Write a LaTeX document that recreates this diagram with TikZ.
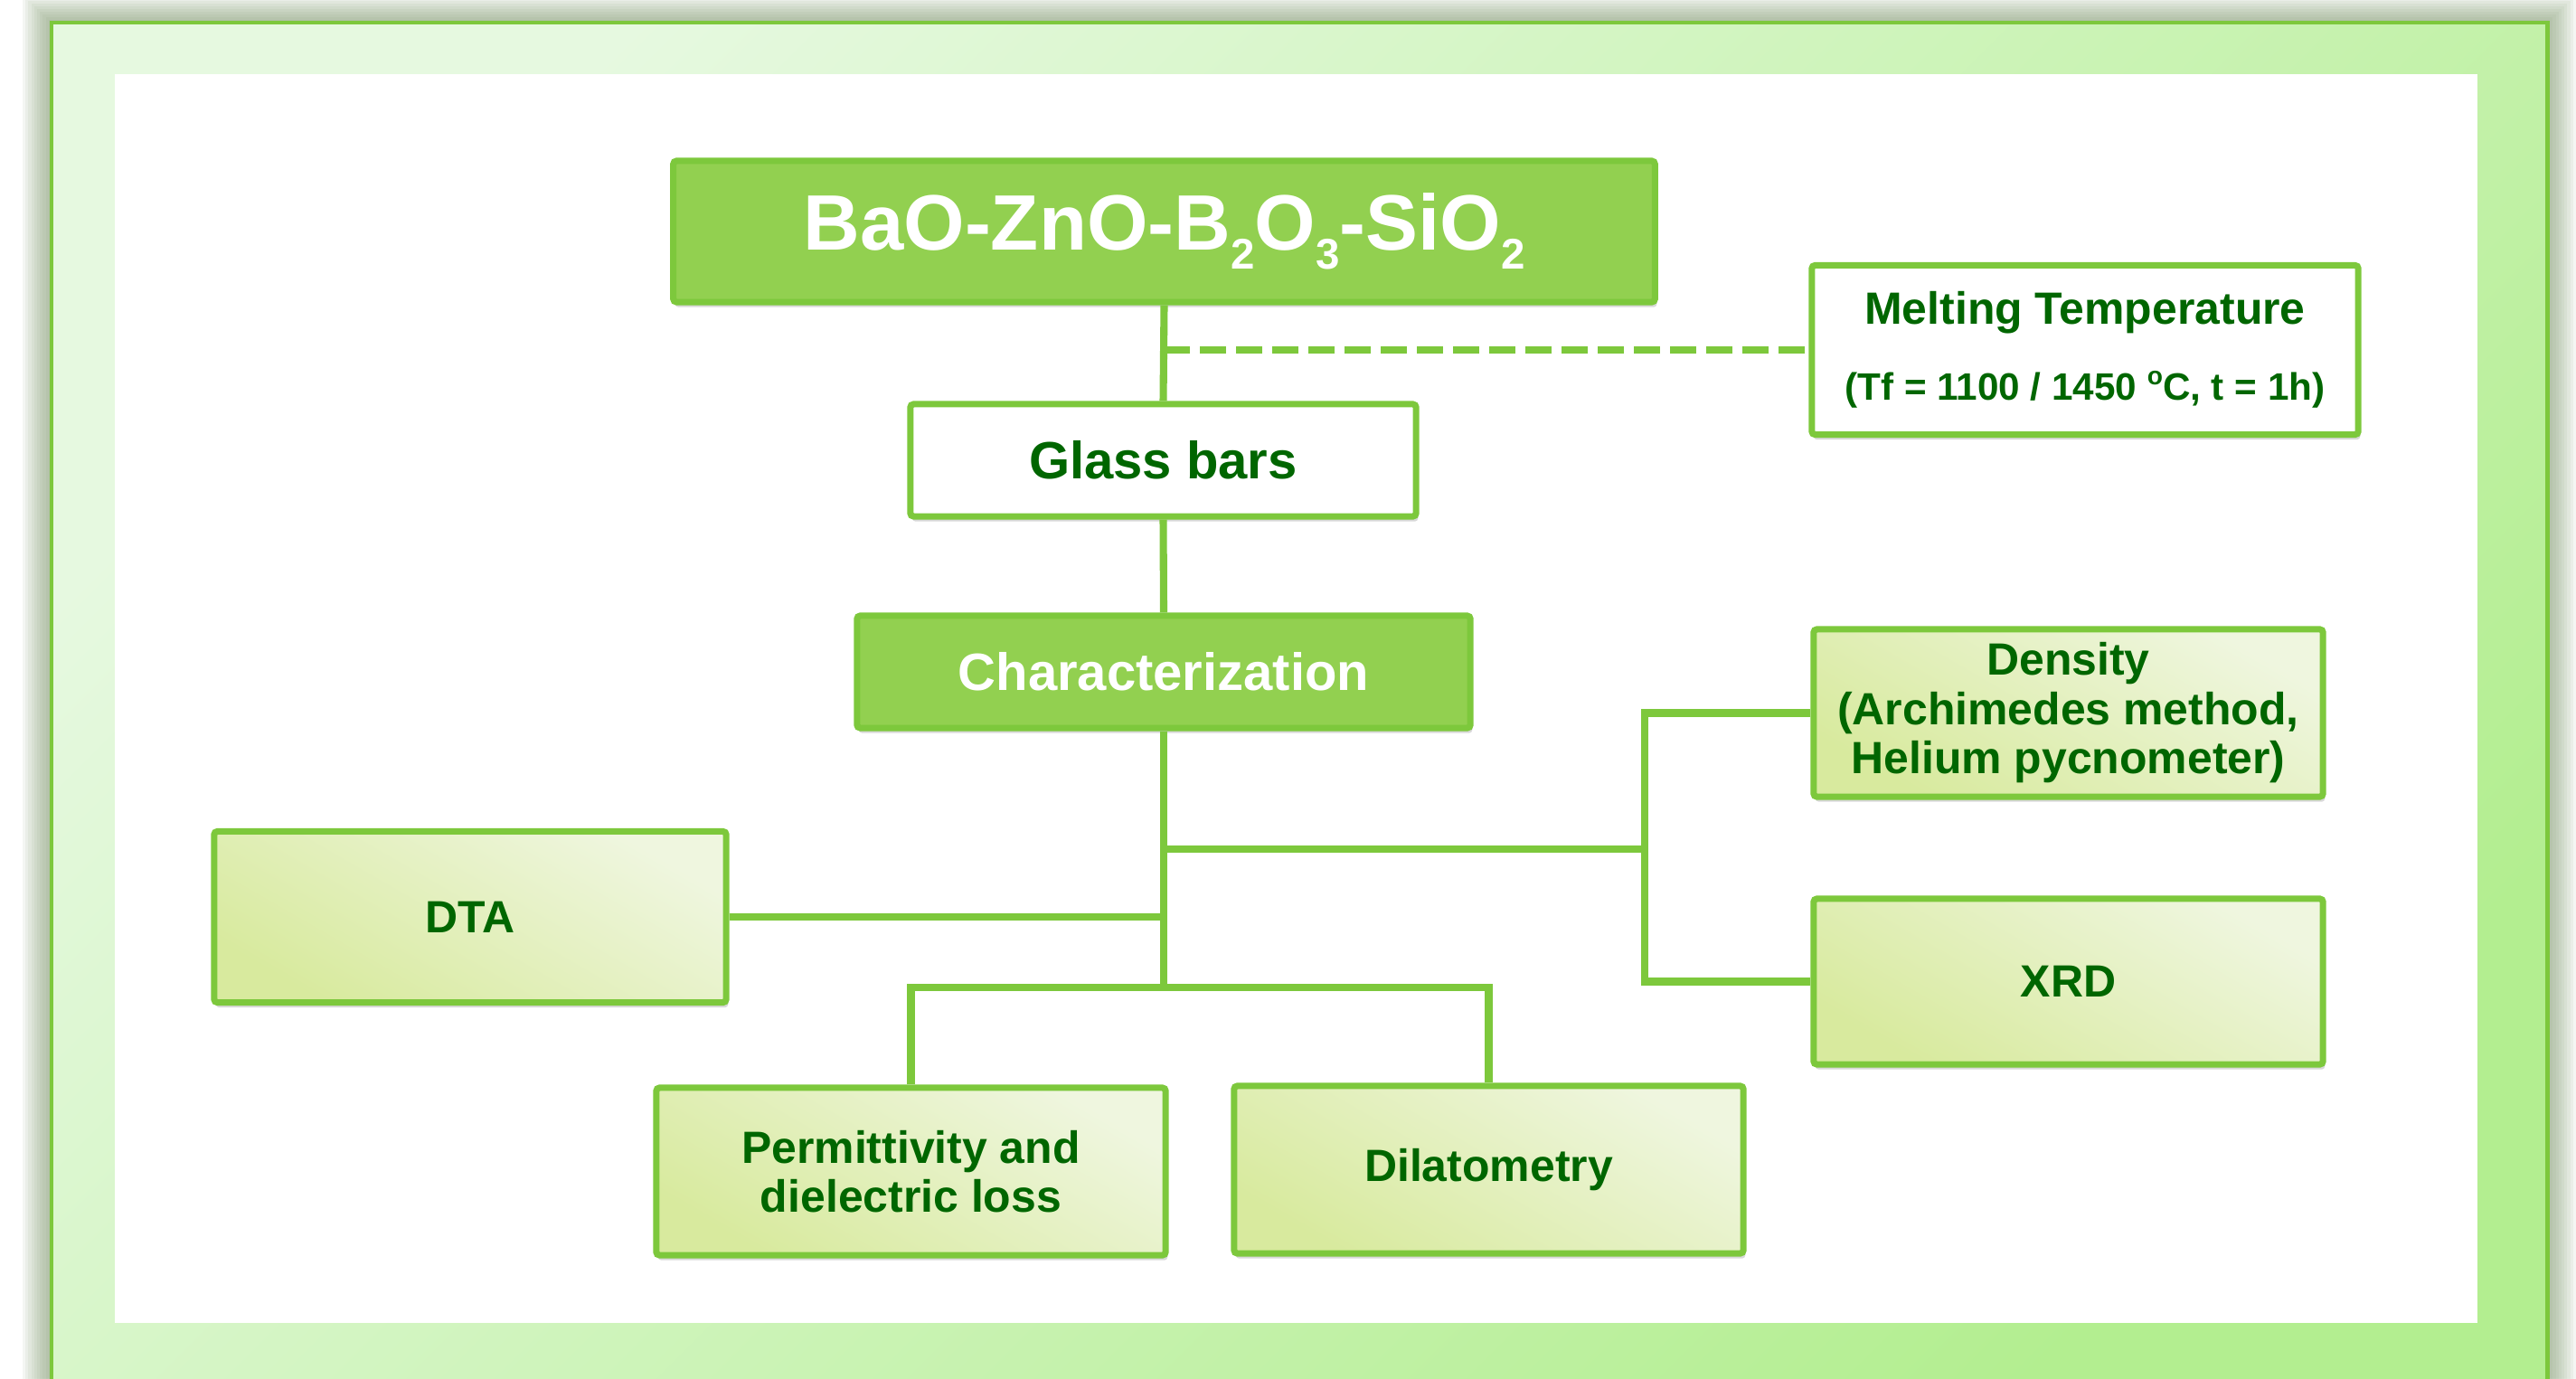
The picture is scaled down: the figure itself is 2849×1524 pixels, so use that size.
\documentclass[tikz,border=0pt]{standalone}
\usepackage{fontspec}
\setmainfont{Liberation Sans}
\usetikzlibrary{shadows}
\definecolor{gfill}{HTML}{92D050}
\definecolor{gline}{HTML}{7DC83C}
\definecolor{gtext}{HTML}{006600}
\definecolor{lbl}{HTML}{D8EA9E}
\definecolor{ltr}{HTML}{EFF6DF}
\definecolor{frA}{HTML}{E6F9E0}
\definecolor{frB}{HTML}{B3EE90}
\definecolor{shd}{HTML}{6F8C5A}
\newcommand\sbs[1]{\raisebox{-6pt}{\fontsize{13.5}{14}\selectfont #1}}
\newcommand\degsup{\raisebox{0.42em}{\fontsize{8}{8}\selectfont o}}
\begin{document}
\begin{tikzpicture}[x=0.01cm,y=-0.01cm,
  box/.style={draw=gline, line width=2pt, rounded corners=1pt, inner sep=0pt, align=center,
    drop shadow={shadow xshift=0.6pt, shadow yshift=-1.6pt, opacity=0.3}},
  darkbox/.style={box, fill=gfill, text=white},
  whitebox/.style={box, fill=white, text=gtext},
  lightbox/.style={box, text=gtext, bottom color=lbl, top color=ltr, shading angle=-30,
    minimum width=5.63cm, minimum height=1.85cm, font=\bfseries\fontsize{14.2}{15.5}\selectfont},
  link/.style={draw=gline, line width=2.3pt},
]
\useasboundingbox (0,0) rectangle (2849,1524);
\fill[white] (0,0) rectangle (2849,1524);
% frame shadow
\foreach \i in {1,...,10}
  \fill[shd, opacity=0.07] (57-\i*3.2, 25-\i*3) rectangle (2817+\i*3.2, 1600);
% frame
\draw[draw=gline, line width=1.4pt, top color=frA, bottom color=frB, shading angle=45]
  (57,25) rectangle (2817,1600);
\fill[white] (127,82) rectangle (2740,1463);

% nodes
\node[darkbox, minimum width=10.85cm, minimum height=1.56cm,
  font=\bfseries\fontsize{24.7}{26}\selectfont] (top) at (1287.5,256)
  {BaO-ZnO-B\sbs{2}O\sbs{3}-SiO\sbs{2}};
\node[whitebox, minimum width=6.04cm, minimum height=1.87cm,
  font=\bfseries\fontsize{14.2}{17}\selectfont] (melt) at (2306,387)
  {Melting Temperature\\[7pt]{\fontsize{12}{14}\selectfont (Tf = 1100 / 1450 \degsup C, t = 1h)}};
\node[whitebox, minimum width=5.59cm, minimum height=1.24cm,
  font=\bfseries\fontsize{16.5}{18}\selectfont] (glass) at (1286.5,509) {Glass bars};
\node[darkbox, minimum width=6.78cm, minimum height=1.24cm,
  font=\bfseries\fontsize{16.5}{18}\selectfont] (char) at (1287,743) {Characterization};
\node[lightbox, minimum width=5.66cm, minimum height=1.89cm] (dta) at (520,1014) {DTA};
\node[lightbox] (dens) at (2287.5,788.5) {Density\\(Archimedes method,\\Helium pycnometer)};
\node[lightbox, minimum height=1.83cm] (xrd) at (2287.5,1085.5) {XRD};
\node[lightbox] (perm) at (1007.5,1295.5) {Permittivity and\\dielectric loss};
\node[lightbox] (dila) at (1646.5,1293.5) {Dilatometry};

% connectors
\coordinate (jm) at (1287,387);
\coordinate (bus) at (1287,1092);
\coordinate (rb) at (1287,939);
\coordinate (vx) at (1819,939);
\draw[link] (top.south) -- (glass.north);
\draw[link, dash pattern=on 0.29cm off 0.11cm] (jm) -- (melt.west);
\draw[link] (glass.south) -- (char.north);
\draw[link] (char.south) -- (bus);
\draw[link] (rb) -- (vx);
\draw[link, line join=miter] (dens.west) -- (dens.west -| vx) -- (xrd.west -| vx) -- (xrd.west);
\draw[link] (dta.east) -- (dta.east -| bus);
\draw[link, line join=miter] (perm.north) -- (perm.north |- bus) -- (dila.north |- bus) -- (dila.north);
\end{tikzpicture}
\end{document}
